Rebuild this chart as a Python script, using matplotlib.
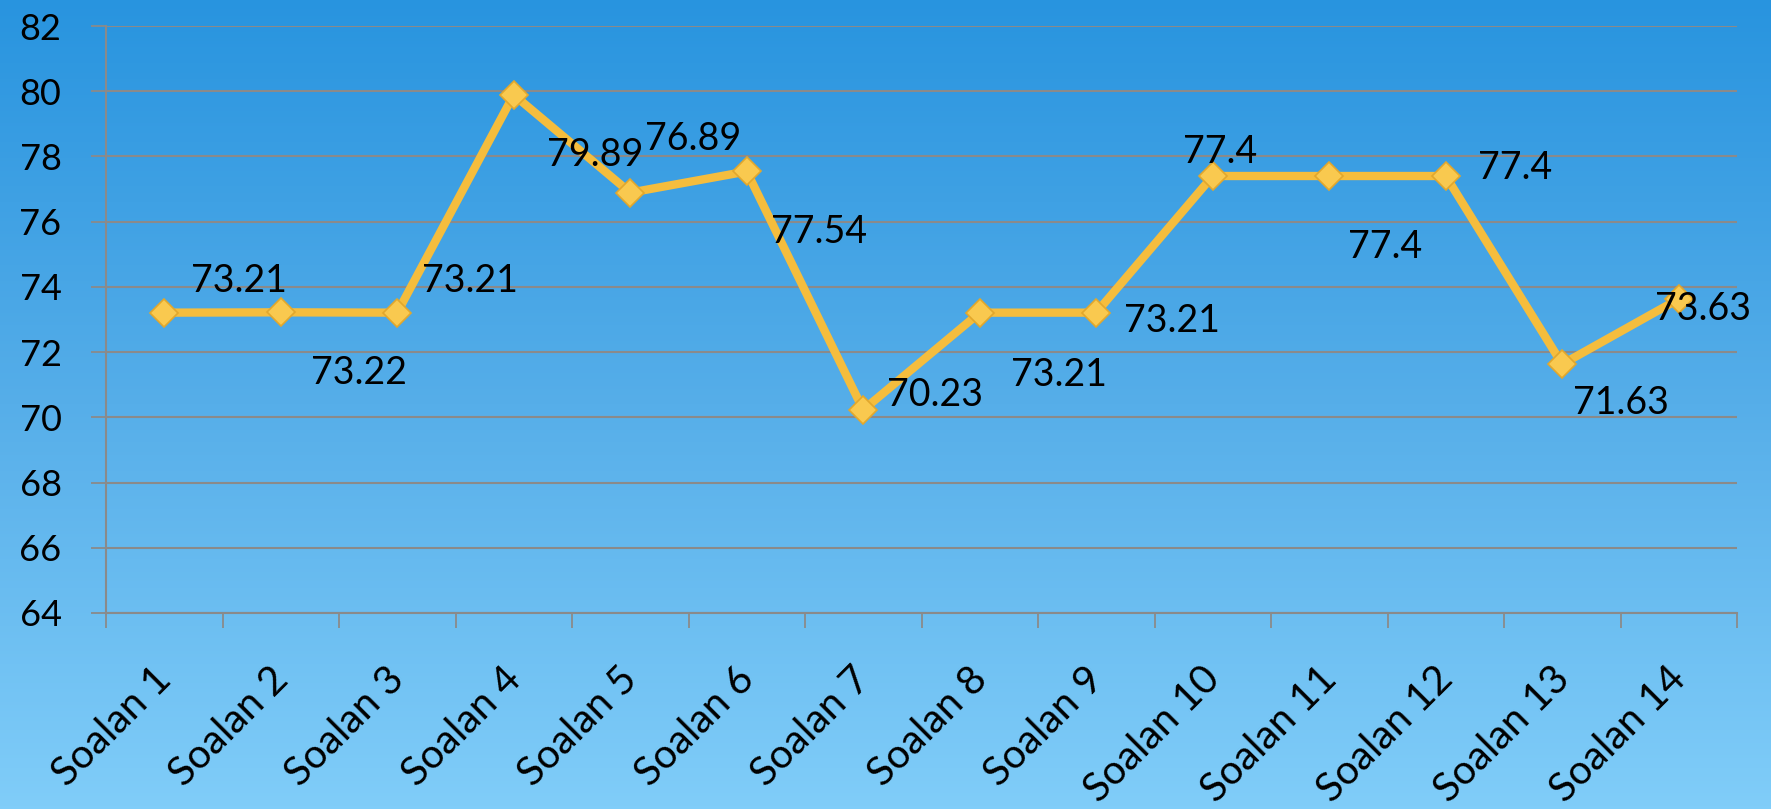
import numpy as np
import matplotlib.pyplot as plt
import matplotlib.colors as mcolors
from matplotlib.transforms import ScaledTranslation

plt.rcParams['font.family'] = ['Lato', 'DejaVu Sans']

categories = [f"Soalan {i}" for i in range(1, 15)]
values = [73.21, 73.22, 73.21, 79.89, 76.89, 77.54, 70.23,
          73.21, 73.21, 77.4, 77.4, 77.4, 71.63, 73.63]
# label offsets from each point, in pixels (right, down)
label_dx = [75, 78, 73, 81, 63, 72, 72, 79, 76, 7, 56, 69, 59, 24]
label_dy = [-32, 61, -32, 60, -54, 61, -15, 62, 8, -24, 71, -8, 39, 10]
yticks = np.arange(64, 83, 2)

W, H = 1771, 809
fig = plt.figure(figsize=(W / 100, H / 100), dpi=100)

# background gradient over the whole figure
bg = fig.add_axes([0, 0, 1, 1], zorder=-10)
cmap = mcolors.LinearSegmentedColormap.from_list(
    "bg", ["#2894df", "#56aee9", "#80cdf9"])
bg.imshow(np.linspace(0, 1, 256).reshape(-1, 1), aspect="auto",
          cmap=cmap, extent=[0, 1, 0, 1])
bg.set_axis_off()

ax = fig.add_axes([106 / W, 1 - 613 / H, (1737 - 106) / W, (613 - 26) / H])
ax.patch.set_alpha(0)

x = np.arange(len(categories))
ax.plot(x, values, color="#f5bd3d", lw=6, zorder=3, solid_joinstyle="miter")
ax.plot(x, values, ls="none", marker="D", ms=14, mfc="#f9c94f",
        mec="#e2a72c", mew=1.2, zorder=4)

for i, v in enumerate(values):
    ax.annotate(f"{v:g}", (x[i], v), xytext=(label_dx[i] * 0.72, -label_dy[i] * 0.72),
                textcoords="offset points", ha="center", va="center",
                fontsize=27, color="black", zorder=5)

ax.set_xlim(-0.5, len(categories) - 0.5)
ax.set_ylim(64, 82)
ax.set_yticks(yticks)
ax.set_yticklabels([str(t) for t in yticks], fontsize=26)
ax.grid(axis="y", color="#8a8a8a", lw=1.5)
ax.set_axisbelow(True)

# x ticks at category boundaries, labels at centres
ax.set_xticks(np.arange(-0.5, len(categories)), minor=False)
ax.set_xticklabels([])
ax.set_xticks(x, minor=True)
ax.set_xticklabels(categories, minor=True, rotation=45, ha="right",
                   rotation_mode="anchor", fontsize=29)
ax.tick_params(axis="x", which="minor", length=0, pad=34)
ax.tick_params(axis="x", which="major", length=11, width=1.3, color="#8a8a8a")
ax.tick_params(axis="y", length=11, width=1.3, color="#8a8a8a", pad=21)
for lab in ax.get_xticklabels(minor=True):
    lab.set_transform(lab.get_transform() + ScaledTranslation(-0.12, 0, fig.dpi_scale_trans))

for s in ["top", "right"]:
    ax.spines[s].set_visible(False)
for s in ["left", "bottom"]:
    ax.spines[s].set_color("#8a8a8a")
    ax.spines[s].set_linewidth(1.5)

fig.savefig("out.png", dpi=100)
